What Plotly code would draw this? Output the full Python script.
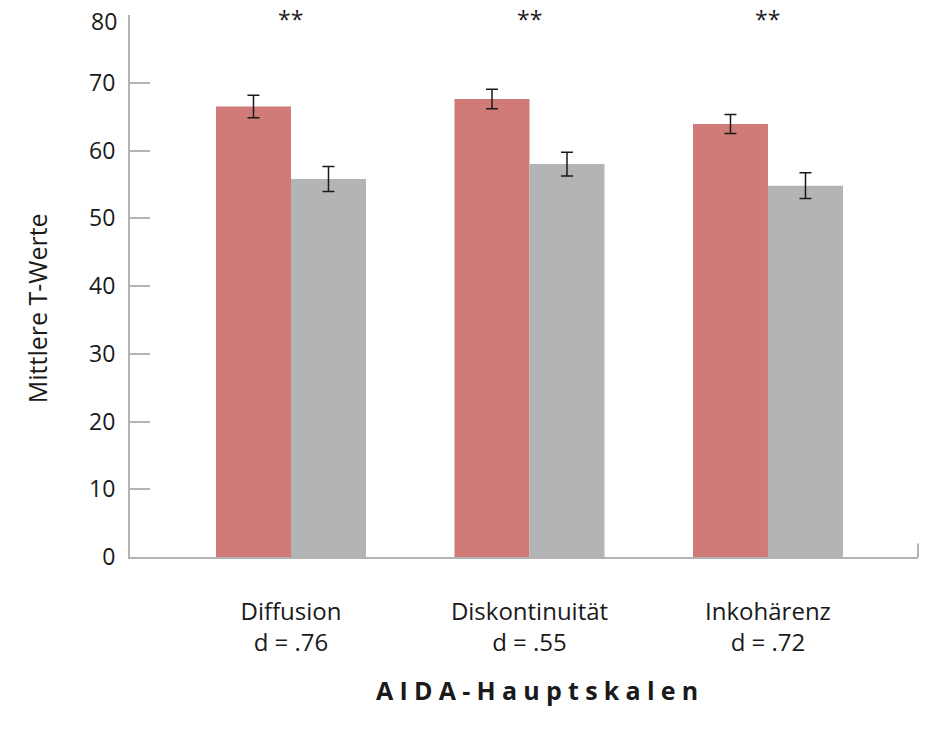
import plotly.graph_objects as go

# ---- data ----
categories = ["Diffusion", "Diskontinuität", "Inkohärenz"]
effect_sizes = ["d = .76", "d = .55", "d = .72"]
group_a_means = [66.5, 67.6, 63.9]
group_a_err = [1.65, 1.45, 1.4]
group_b_means = [55.8, 58.0, 54.8]
group_b_err = [1.85, 1.75, 1.9]
significance = ["**", "**", "**"]
y_ticks = [0, 10, 20, 30, 40, 50, 60, 70, 80]
y_tick_labels = ["0", "10", "20", "30", "40", "50", "60", "70", "80"]
x_title = "AIDA-Hauptskalen"
y_title = "Mittlere T-Werte"

x_pos = list(range(len(categories)))
tick_text = [f"{c}<br>{d}" for c, d in zip(categories, effect_sizes)]

FONT = "Open Sans"
TXT = "#1a1a1a"
AXIS = "#b3b3b3"
BAR_W = 0.3145

fig = go.Figure()
fig.add_trace(go.Bar(
    x=x_pos, y=group_a_means, width=BAR_W, offset=-BAR_W,
    marker=dict(color="#d17b79", line=dict(width=0)),
    error_y=dict(type="data", array=group_a_err, color="#1a1a1a", thickness=1.5, width=6),
    showlegend=False, hoverinfo="skip",
))
fig.add_trace(go.Bar(
    x=x_pos, y=group_b_means, width=BAR_W, offset=0,
    marker=dict(color="#b3b4b6", line=dict(width=0)),
    error_y=dict(type="data", array=group_b_err, color="#1a1a1a", thickness=1.5, width=6),
    showlegend=False, hoverinfo="skip",
))

for xi, s in zip(x_pos, significance):
    fig.add_annotation(x=xi, y=80, xref="x", yref="y", text=s, showarrow=False,
                       yanchor="middle", yshift=-4,
                       font=dict(family=FONT, size=23, color=TXT))

# top tick label is drawn slightly inside the plot (as in the original)
fig.add_annotation(x=0, y=y_ticks[-1], xref="paper", yref="y", text=y_tick_labels[-1],
                   showarrow=False, xanchor="right", yanchor="middle",
                   xshift=-11, yshift=-6,
                   font=dict(family=FONT, size=23, color=TXT))

# axis titles
fig.add_annotation(x=0.5165, y=-0.245, xref="paper", yref="paper",
                   text="<b>" + "\u2005".join(list(x_title)) + "</b>",
                   showarrow=False, xanchor="center", yanchor="middle",
                   font=dict(family=FONT, size=25, color=TXT))
fig.add_annotation(x=-0.118, y=0.459, xref="paper", yref="paper",
                   text=y_title, textangle=-90,
                   showarrow=False, xanchor="center", yanchor="middle",
                   font=dict(family=FONT, size=25, color=TXT))

# small end tick at right end of x axis
fig.add_shape(type="line", xref="paper", yref="y", x0=1, x1=1, y0=0, y1=2,
              line=dict(color=AXIS, width=2))

fig.update_layout(
    width=926, height=731,
    margin=dict(l=130, r=8, t=15, b=174, autoexpand=False),
    plot_bgcolor="white", paper_bgcolor="white",
    barmode="overlay",
    hovermode=False,
    font=dict(family=FONT, size=23, color=TXT),
    xaxis=dict(
        range=[-0.675, 2.629],
        tickvals=x_pos, ticktext=tick_text,
        showline=True, linecolor=AXIS, linewidth=2,
        ticks="", showgrid=False, zeroline=False,
        ticklabelstandoff=32,
        tickfont=dict(family=FONT, size=24, color=TXT),
    ),
    yaxis=dict(
        range=[0, 80.0001], tickvals=y_ticks,
        ticktext=y_tick_labels[:-1] + [""],
        showline=True, linecolor=AXIS, linewidth=2,
        ticks="inside", ticklen=20, tickwidth=2, tickcolor=AXIS,
        showgrid=False, zeroline=False,
        ticklabelstandoff=8, ticklabeloverflow="allow",
        tickfont=dict(family=FONT, size=23, color=TXT),
    ),
)

fig.write_html("out.html", config={"displayModeBar": False},
               post_script="document.body.style.margin='0px';")
